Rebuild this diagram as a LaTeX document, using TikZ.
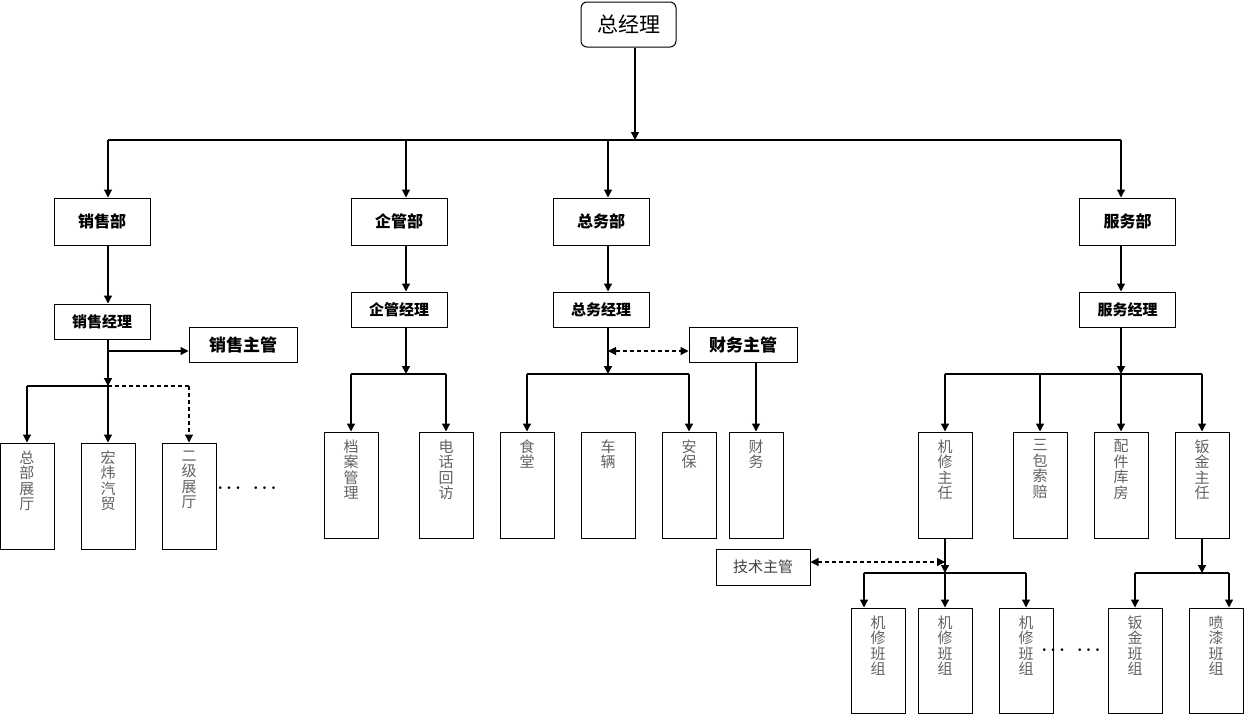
\documentclass[tikz,border=0pt]{standalone}
\usepackage{fontspec}
\setmainfont{Noto Sans CJK SC}
\usetikzlibrary{positioning, arrows.meta}

\tikzset{
    box/.style={draw, line width=1pt, inner sep=0pt, font=\bfseries\fontsize{15}{15}\selectfont},
    dept/.style={box, minimum width=96pt, minimum height=47pt, font=\bfseries\fontsize{16}{16}\selectfont},
    mgr/.style={box, minimum width=96pt, minimum height=35pt},
    lead/.style={box, minimum width=108pt, minimum height=35pt, font=\bfseries\fontsize{17}{17}\selectfont},
    sub/.style={draw, line width=1pt, minimum width=54pt, minimum height=106pt, inner sep=0pt},
    vlab/.style={anchor=north, align=center, inner sep=0pt, yshift=-8pt, text=black!62, font=\fontsize{15}{15.5}\selectfont},
    arr/.style={line width=1.2pt, -{Triangle[length=8pt,width=8pt]}},
    darr/.style={line width=1.2pt, dash pattern=on 4pt off 3pt, {Triangle[length=8pt,width=8pt]}-{Triangle[length=8pt,width=8pt]}},
    bus/.style={line width=1.2pt},
    dots/.style={font=\boldmath\fontsize{18}{18}\selectfont}
}

\begin{document}
\begin{tikzpicture}[x=1pt, y=-1pt]
    \useasboundingbox (0,0) rectangle (1244,715);

    % top and departments
    \node[box, rounded corners=6pt, minimum width=95pt, minimum height=45pt, font=\fontsize{21}{21}\selectfont] (zjl) at (628.5,24.5) {总经理};
    \node[dept] (xsb) at (102,221.5) {销售部};
    \node[dept] (qgb) at (399,221.5) {企管部};
    \node[dept] (zwb) at (601,221.5) {总务部};
    \node[dept] (fwb) at (1127.5,221.5) {服务部};

    \node[mgr] (xsjl) at (102,321.5) {销售经理};
    \node[mgr] (qgjl) at (399,309.5) {企管经理};
    \node[mgr] (zwjl) at (601,309.5) {总务经理};
    \node[mgr] (fwjl) at (1127.5,309.5) {服务经理};

    \node[lead] (xszg) at (243,344.5) {销售主管};
    \node[lead] (cwzg) at (743,344.5) {财务主管};
    \node[box, minimum width=94pt, minimum height=36pt, font=\fontsize{15}{15}\selectfont, text=black!75] (jszg) at (763,567) {技术主管};

    % second level boxes
    \foreach \n/\x/\t in {zbzt/27/总\\部\\展\\厅, hwqm/108/宏\\炜\\汽\\贸, ejzt/189/二\\级\\展\\厅}
        \node[sub, label={[vlab]north:\t}] (\n) at (\x,496) {};
    \foreach \n/\x/\t in {dagl/351/档\\案\\管\\理, dhhf/446/电\\话\\回\\访, st/527/食\\堂, cl/608/车\\辆,
        ab/689/安\\保, cw/756/财\\务, jxzr/945/机\\修\\主\\任, sbsp/1040/三\\包\\索\\赔,
        pjkf/1121/配\\件\\库\\房, bjzr/1202/钣\\金\\主\\任}
        \node[sub, label={[vlab]north:\t}] (\n) at (\x,485) {};
    \foreach \n/\x/\t in {jx1/878/机\\修\\班\\组, jx2/945/机\\修\\班\\组, jx3/1026/机\\修\\班\\组,
        bjbz/1135/钣\\金\\班\\组, pqbz/1216/喷\\漆\\班\\组}
        \node[sub, minimum height=105pt, label={[vlab]north:\t}] (\n) at (\x,660.5) {};

    \node[dots] (xsdots) at (247,488) {$\cdots\enspace\cdots$};
    \node[dots] (jxdots) at (1071,650) {$\cdots\enspace\cdots$};

    % main bus
    \coordinate (top) at (635,140);
    \coordinate (c1) at (108,140); \coordinate (c2) at (406,140);
    \coordinate (c3) at (608,140); \coordinate (c4) at (1121,140);
    \draw[arr] (zjl.south -| top) -- (top);
    \draw[bus] (c1) -- (c4);
    \foreach \c/\d/\m in {1/xsb/xsjl, 2/qgb/qgjl, 3/zwb/zwjl, 4/fwb/fwjl} {
        \draw[arr] (c\c) -- (c\c |- \d.north);
        \draw[arr] (c\c |- \d.south) -- (c\c |- \m.north);
    }

    % sales
    \coordinate (xsf) at (108,386); \coordinate (xsm) at (108,351);
    \draw[arr] (c1 |- xsjl.south) -- (xsf);
    \draw[arr] (xsm) -- (xsm -| xszg.west);
    \draw[bus] (xsf -| zbzt) -- (xsf);
    \draw[bus, dash pattern=on 4pt off 3pt] (xsf) -- (xsf -| ejzt);
    \draw[arr] (xsf -| zbzt) -- (zbzt.north);
    \draw[arr] (xsf) -- (hwqm.north);
    \draw[arr, dash pattern=on 4pt off 3pt] (xsf -| ejzt) -- (ejzt.north);

    % enterprise management
    \coordinate (qgf) at (406,374);
    \draw[arr] (c2 |- qgjl.south) -- (qgf);
    \draw[bus] (qgf -| dagl) -- (qgf -| dhhf);
    \foreach \n in {dagl, dhhf} \draw[arr] (qgf -| \n) -- (\n.north);

    % general affairs
    \coordinate (zwf) at (608,374); \coordinate (zwm) at (608,351);
    \draw[arr] (c3 |- zwjl.south) -- (zwf);
    \draw[darr] (zwm) -- (zwm -| cwzg.west);
    \draw[bus] (zwf -| st) -- (zwf -| ab);
    \foreach \n in {st, ab} \draw[arr] (zwf -| \n) -- (\n.north);
    \draw[arr] (cw |- cwzg.south) -- (cw.north);

    % service
    \coordinate (fwf) at (1121,374);
    \draw[arr] (c4 |- fwjl.south) -- (fwf);
    \draw[bus] (fwf -| jxzr) -- (fwf -| bjzr);
    \foreach \n in {jxzr, sbsp, pjkf, bjzr} \draw[arr] (fwf -| \n) -- (\n.north);

    % repair and sheet metal teams
    \coordinate (jxf) at (945,573); \coordinate (jxl) at (864,573); \coordinate (jsm) at (945,562);
    \draw[arr] (jxzr.south) -- (jxf);
    \draw[darr] (jsm -| jszg.east) -- (jsm);
    \draw[bus] (jxl) -- (jxf -| jx3);
    \draw[arr] (jxl) -- (jxl |- jx1.north);
    \draw[arr] (jxf) -- (jx2.north);
    \draw[arr] (jxf -| jx3) -- (jx3.north);

    \coordinate (bjf) at (1202,573); \coordinate (bjr) at (1229,573);
    \draw[arr] (bjzr.south) -- (bjf);
    \draw[bus] (bjf -| bjbz) -- (bjr);
    \draw[arr] (bjf -| bjbz) -- (bjbz.north);
    \draw[arr] (bjr) -- (bjr |- pqbz.north);
\end{tikzpicture}
\end{document}
